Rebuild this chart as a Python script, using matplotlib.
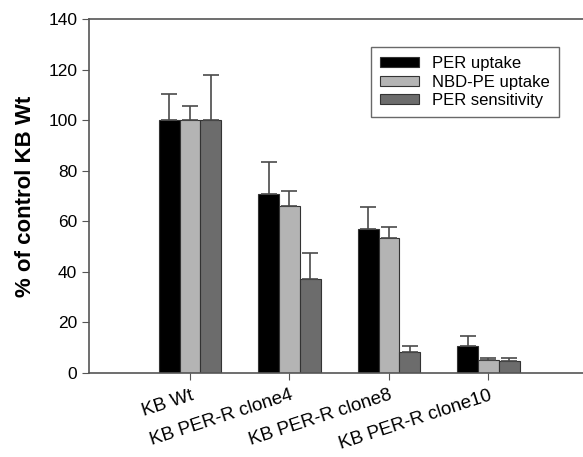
import matplotlib
matplotlib.use("Agg")
import matplotlib.pyplot as plt
import matplotlib.transforms as mtransforms
import numpy as np

plt.rcParams["font.family"] = ["Liberation Sans", "DejaVu Sans"]

GROUPS = ["KB Wt", "KB PER-R clone4", "KB PER-R clone8", "KB PER-R clone10"]
SERIES = ["PER uptake", "NBD-PE uptake", "PER sensitivity"]
COLORS = ["#000000", "#b4b4b4", "#6c6c6c"]

per_uptake = [100, 71, 57, 10.5]
per_uptake_err = [10.5, 12.5, 8.5, 4.3]
nbd_uptake = [100, 66, 53.5, 5]
nbd_uptake_err = [5.5, 6, 4.3, 1.1]
per_sens = [100, 37, 8.5, 4.6]
per_sens_err = [18, 10.5, 2.2, 1.3]

values = [per_uptake, nbd_uptake, per_sens]
errors = [per_uptake_err, nbd_uptake_err, per_sens_err]

fig = plt.figure(figsize=(5.83, 4.57), dpi=100)
ax = fig.add_axes([0.1527, 0.1838, 0.8473, 0.7742])

x = np.arange(len(GROUPS))
width = 0.21
for i, (vals, errs) in enumerate(zip(values, errors)):
    ax.bar(x + (i - 1) * width, vals, width=width, color=COLORS[i],
           edgecolor="#333333", linewidth=0.8, label=SERIES[i],
           yerr=[np.zeros(len(errs)), errs],
           error_kw=dict(ecolor="#4a4a4a", elinewidth=1.2, capsize=5.5, capthick=1.2))

ax.set_xlim(-1.015, 3.95)
ax.set_ylim(0, 140)
ax.set_yticks(range(0, 141, 20))
ax.set_xticks(x)
ax.set_xticklabels(GROUPS, rotation=18, ha="right", va="top",
                   rotation_mode="anchor", fontsize=13.5)
# nudge the rotated labels a little to the right, as in the reference
shift = mtransforms.ScaledTranslation(4 / 100, -2 / 100, fig.dpi_scale_trans)
for lbl in ax.get_xticklabels():
    lbl.set_transform(lbl.get_transform() + shift)
ax.tick_params(axis="y", labelsize=12.5, direction="out", length=5, color="#555555")
ax.tick_params(axis="x", direction="out", length=5, color="#555555", pad=5)
ax.set_ylabel("% of control KB Wt", fontsize=16, fontweight="bold", labelpad=9)

for s in ["top", "left", "bottom"]:
    ax.spines[s].set_color("#555555")
    ax.spines[s].set_linewidth(1.2)
ax.spines["right"].set_visible(False)

leg = ax.legend(loc="upper right", bbox_to_anchor=(0.951, 0.921), fontsize=12,
                frameon=True, fancybox=False, edgecolor="#444444",
                handlelength=2.3, handleheight=0.55, borderpad=0.55,
                labelspacing=0.2, handletextpad=0.8, borderaxespad=0)
leg.get_frame().set_linewidth(1.0)

fig.savefig("out.png", dpi=100)
